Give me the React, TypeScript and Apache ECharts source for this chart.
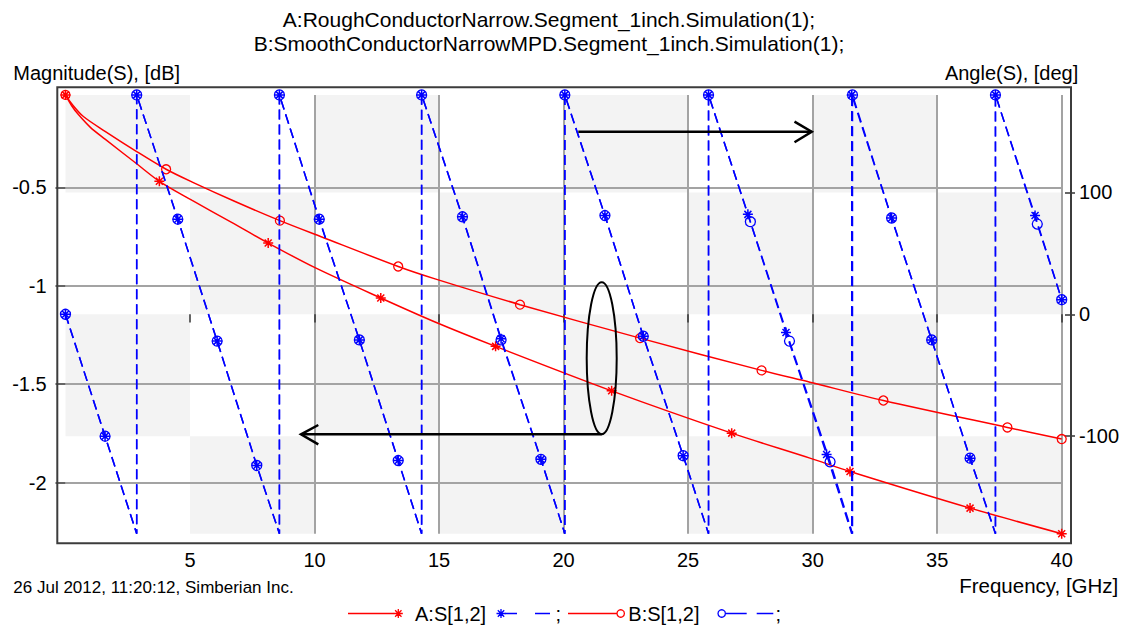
import React, { useEffect, useRef } from 'react';
import * as echarts from 'echarts';

const FONT = '"Liberation Sans", Arial, Helvetica, sans-serif';

// ---------- texts ----------
const titleLine1 = 'A:RoughConductorNarrow.Segment_1inch.Simulation(1);';
const titleLine2 = 'B:SmoothConductorNarrowMPD.Segment_1inch.Simulation(1);';
const leftAxisName = 'Magnitude(S), [dB]';
const rightAxisName = 'Angle(S), [deg]';
const xAxisName = 'Frequency, [GHz]';
const footnote = '26 Jul 2012, 11:20:12, Simberian Inc.';
const legendA = 'A:S[1,2]';
const legendB = 'B:S[1,2]';
const legendSep = ';';

// ---------- axes ----------
const freqRange = [0, 40];
const magRange = [-2.26, -0.03];
const angleRange = [-180, 180];
const freqTicks = [5, 10, 15, 20, 25, 30, 35, 40];
const magTicks = [-2, -1.5, -1, -0.5];
const angleTicks = [-100, 0, 100];
const bandFreqEdges = [0, 5, 10, 15, 20, 25, 30, 35, 40];
const bandAngleEdges = [180, 100, 0, -100, -180];

// ---------- A: magnitude (dB) ----------
const aMagFreq = [0, 0.25, 0.52, 1.0, 1.59, 2.86, 3.77, 5.07, 6.67, 8.14, 10.02, 12.66, 14.84, 17.27, 21.93, 26.75, 29.89, 31.5, 36.32, 40];
const aMagDb = [-0.03, -0.085, -0.13, -0.195, -0.255, -0.38, -0.469, -0.565, -0.678, -0.783, -0.908, -1.062, -1.184, -1.308, -1.534, -1.749, -1.876, -1.944, -2.13, -2.26];
const aMagMark = [1, 0, 0, 0, 0, 0, 1, 0, 0, 1, 0, 1, 0, 1, 1, 1, 0, 1, 1, 1];

// ---------- B: magnitude (dB) ----------
const bMagFreq = [0, 0.25, 0.72, 1.59, 2.86, 4.04, 5.07, 6.81, 8.61, 10.29, 13.36, 14.84, 18.25, 23.07, 27.95, 29.89, 32.84, 37.82, 40];
const bMagDb = [-0.03, -0.075, -0.14, -0.215, -0.318, -0.408, -0.472, -0.572, -0.669, -0.752, -0.902, -0.965, -1.096, -1.266, -1.43, -1.49, -1.583, -1.72, -1.779];
const bMagMark = [1, 0, 0, 0, 0, 1, 0, 0, 1, 0, 1, 0, 1, 1, 1, 0, 1, 1, 1];

// ---------- A: angle (deg) ----------
const aAngFreq = [0, 1.59, 2.86, 2.86, 4.51, 6.09, 7.68, 8.59, 8.59, 10.19, 11.8, 13.36, 14.3, 14.3, 15.94, 17.49, 19.09, 20.05, 20.05, 21.66, 23.2, 24.8, 25.82, 25.82, 27.4, 28.93, 30.56, 31.57, 31.57, 33.17, 34.78, 36.32, 37.34, 37.34, 38.93, 40];
const aAngDeg = [0, -100, -180, 180, 78, -22, -124, -180, 180, 78, -21, -120, -180, 180, 80, -20, -119, -180, 180, 81, -18, -116, -180, 180, 82, -15, -115, -180, 180, 79, -21, -118, -180, 180, 81, 12];
const aAngMark = [1, 1, 0, 1, 1, 1, 1, 0, 1, 1, 1, 1, 0, 1, 1, 1, 1, 0, 1, 1, 1, 1, 0, 1, 1, 1, 1, 0, 1, 1, 1, 1, 0, 1, 1, 1];

// ---------- B: angle (deg) ----------
const bAngFreq = [0, 1.59, 2.86, 2.86, 4.51, 6.09, 7.68, 8.59, 8.59, 10.19, 11.8, 13.36, 14.3, 14.3, 15.94, 17.49, 19.09, 20.05, 20.05, 21.66, 23.2, 24.8, 25.82, 25.82, 27.5, 29.07, 30.7, 31.6, 31.6, 33.17, 34.78, 36.32, 37.34, 37.34, 39.02, 40];
const bAngDeg = [0, -100, -180, 180, 78, -22, -124, -180, 180, 78, -21, -120, -180, 180, 80, -21, -119, -180, 180, 81, -18, -116, -180, 180, 76, -22, -121, -180, 180, 79, -21, -118, -180, 180, 74, 12];
const bAngMark = [1, 1, 0, 1, 1, 1, 1, 0, 1, 1, 1, 1, 0, 1, 1, 1, 1, 0, 1, 1, 1, 1, 0, 1, 1, 1, 1, 0, 1, 1, 1, 1, 0, 1, 1, 1];

// ---------- styles ----------
const RED = '#ff0000';
const BLUE = '#0000ff';
const BAND = '#f3f3f3';
const GRIDLINE = '#a3a3a3';
const FRAME = '#3c3c3c';
const STAR_PATH = 'path://M5,0L5,10M0,5L10,5M1.5,1.5L8.5,8.5M1.5,8.5L8.5,1.5';
const ASTERISK_D = 'M0,-4.5L0,4.5M-4.5,0L4.5,0M-3.2,-3.2L3.2,3.2M-3.2,3.2L3.2,-3.2';

echarts.graphic.registerShape('asterisk', echarts.graphic.extendPath(ASTERISK_D, {}));

function buildPoints(freq: number[], vals: number[], marks: number[]) {
  return freq.map((f, i) => (marks[i] ? { value: [f, vals[i]] } : { value: [f, vals[i]], symbol: 'none' }));
}

function buildBands() {
  const cells: number[][] = [];
  for (let c = 0; c < bandFreqEdges.length - 1; c++) {
    for (let r = 0; r < bandAngleEdges.length - 1; r++) {
      if ((c + r) % 2 === 0) {
        cells.push([bandFreqEdges[c], bandFreqEdges[c + 1], bandAngleEdges[r], bandAngleEdges[r + 1]]);
      }
    }
  }
  return cells;
}

function txt(text: string, x: number, y: number, size: number, align: string, extra: any = {}) {
  return {
    type: 'text',
    x,
    y,
    silent: true,
    style: { text, fill: '#000', fontSize: size, fontFamily: FONT, align, verticalAlign: 'middle', ...extra },
  };
}

function seg(x1: number, y1: number, x2: number, y2: number, stroke: string, lineWidth: number) {
  return { type: 'line', silent: true, shape: { x1, y1, x2, y2 }, style: { stroke, lineWidth } };
}

export default function App() {
  const ref = useRef<HTMLDivElement>(null);

  useEffect(() => {
    if (!ref.current) return;
    const chart = echarts.init(ref.current, undefined, { renderer: 'svg' });

    const labelStyle = { color: '#000', fontSize: 20, fontFamily: FONT };
    const tickStyle = { color: '#333', width: 1.5 };
    const LY = 613.5;

    const option: any = {
      animation: false,
      backgroundColor: '#ffffff',
      textStyle: { fontFamily: FONT },
      grid: {
        left: 65.47,
        right: 61.3,
        top: 94.9,
        bottom: 91.3,
        containLabel: false,
        outerBoundsMode: 'none',
      },
      xAxis: {
        type: 'value',
        min: freqRange[0],
        max: freqRange[1],
        position: 'bottom',
        offset: 5.3,
        axisLine: { show: false },
        axisTick: { show: true, inside: false, length: 8.3, customValues: freqTicks, lineStyle: tickStyle },
        axisLabel: { ...labelStyle, margin: 11, customValues: freqTicks },
        splitLine: { show: true, showMinLine: false, lineStyle: { color: GRIDLINE, width: 2 } },
      },
      yAxis: [
        {
          type: 'value',
          min: magRange[0],
          max: magRange[1],
          position: 'left',
          offset: 2.2,
          axisLine: { show: false },
          axisTick: { show: true, inside: false, length: 10, customValues: magTicks, lineStyle: tickStyle },
          axisLabel: { ...labelStyle, margin: 16.6, customValues: magTicks },
          splitLine: { show: true, lineStyle: { color: GRIDLINE, width: 2 } },
        },
        {
          type: 'value',
          min: angleRange[0],
          max: angleRange[1],
          position: 'right',
          offset: 3.3,
          axisLine: { show: false },
          axisTick: { show: true, inside: false, length: 10, customValues: angleTicks, lineStyle: tickStyle },
          axisLabel: { ...labelStyle, margin: 14, customValues: angleTicks },
          splitLine: { show: false },
        },
      ],
      series: [
        {
          type: 'custom',
          name: 'bands',
          xAxisIndex: 0,
          yAxisIndex: 1,
          z: -1,
          silent: true,
          encode: { x: [0, 1], y: [2, 3] },
          data: buildBands(),
          renderItem: (params: any, api: any) => {
            const p0 = api.coord([api.value(0), api.value(2)]);
            const p1 = api.coord([api.value(1), api.value(3)]);
            return {
              type: 'rect',
              shape: {
                x: Math.min(p0[0], p1[0]),
                y: Math.min(p0[1], p1[1]),
                width: Math.abs(p1[0] - p0[0]),
                height: Math.abs(p1[1] - p0[1]),
              },
              style: { fill: BAND },
            };
          },
        },
        {
          type: 'line',
          name: 'A mag',
          yAxisIndex: 0,
          smooth: 0.3,
          clip: false,
          showSymbol: true,
          showAllSymbol: true,
          symbol: STAR_PATH,
          symbolSize: 10,
          lineStyle: { color: RED, width: 1.5 },
          itemStyle: { color: 'transparent', borderColor: RED, borderWidth: 1.5 },
          data: buildPoints(aMagFreq, aMagDb, aMagMark),
          z: 3,
        },
        {
          type: 'line',
          name: 'B mag',
          yAxisIndex: 0,
          smooth: 0.3,
          clip: false,
          showSymbol: true,
          showAllSymbol: true,
          symbol: 'circle',
          symbolSize: 9,
          lineStyle: { color: RED, width: 1.5 },
          itemStyle: { color: 'transparent', borderColor: RED, borderWidth: 1.3 },
          data: buildPoints(bMagFreq, bMagDb, bMagMark),
          z: 3,
        },
        {
          type: 'line',
          name: 'A ang',
          yAxisIndex: 1,
          smooth: false,
          clip: false,
          showSymbol: true,
          showAllSymbol: true,
          symbol: STAR_PATH,
          symbolSize: 10,
          lineStyle: { color: BLUE, width: 1.5, type: [10, 5] },
          itemStyle: { color: 'transparent', borderColor: BLUE, borderWidth: 1.5 },
          data: buildPoints(aAngFreq, aAngDeg, aAngMark),
          z: 4,
        },
        {
          type: 'line',
          name: 'B ang',
          yAxisIndex: 1,
          smooth: false,
          clip: false,
          showSymbol: true,
          showAllSymbol: true,
          symbol: 'circle',
          symbolSize: 10,
          lineStyle: { color: BLUE, width: 1.5, type: [10, 5] },
          itemStyle: { color: 'transparent', borderColor: BLUE, borderWidth: 1.3 },
          data: buildPoints(bAngFreq, bAngDeg, bAngMark),
          z: 4,
        },
      ],
      graphic: [
        // frame
        {
          type: 'rect',
          silent: true,
          z: 10,
          shape: { x: 57.3, y: 87.3, width: 1013.7, height: 456 },
          style: { fill: 'none', stroke: FRAME, lineWidth: 2 },
        },
        // titles & axis names
        txt(titleLine1, 549, 19.5, 21, 'center'),
        txt(titleLine2, 549, 43.7, 21, 'center'),
        txt(leftAxisName, 13.3, 72.5, 20, 'left'),
        txt(rightAxisName, 1078.3, 72.5, 20, 'right'),
        txt(xAxisName, 1118.3, 585, 20.5, 'right'),
        txt(footnote, 13.3, 587.5, 17, 'left'),
        // annotations: right arrow
        { ...seg(578.3, 131.7, 811.7, 131.7, '#000', 2.5), z: 20 },
        {
          type: 'polyline',
          silent: true,
          z: 20,
          shape: { points: [[794.5, 121.7], [811.7, 131.7], [794.5, 142.3]] },
          style: { stroke: '#000', lineWidth: 2.5, fill: 'none' },
        },
        // ellipse and left arrow
        {
          type: 'ellipse',
          silent: true,
          z: 20,
          shape: { cx: 601.7, cy: 358.3, rx: 15, ry: 76 },
          style: { stroke: '#000', lineWidth: 2, fill: 'none' },
        },
        { ...seg(301, 434.3, 601.7, 434.3, '#000', 2.5), z: 20 },
        {
          type: 'polyline',
          silent: true,
          z: 20,
          shape: { points: [[318.3, 425], [301, 434.3], [318.3, 444.3]] },
          style: { stroke: '#000', lineWidth: 2.5, fill: 'none' },
        },
        // legend
        seg(348, LY, 394, LY, RED, 1.5),
        { type: 'asterisk', x: 398.3, y: LY, silent: true, style: { stroke: RED, lineWidth: 1.3, fill: 'none' } },
        txt(legendA, 415, LY, 20, 'left'),
        { type: 'asterisk', x: 501, y: LY, silent: true, style: { stroke: BLUE, lineWidth: 1.3, fill: 'none' } },
        seg(505, LY, 517, LY, BLUE, 1.5),
        seg(535, LY, 550, LY, BLUE, 1.5),
        txt(legendSep, 555.5, LY, 20, 'left'),
        seg(568, LY, 617, LY, RED, 1.5),
        { type: 'circle', silent: true, shape: { cx: 620.7, cy: LY, r: 3.7 }, style: { stroke: RED, lineWidth: 1.3, fill: 'none' } },
        txt(legendB, 628.3, LY, 20, 'left'),
        { type: 'circle', silent: true, shape: { cx: 721.7, cy: LY, r: 3.7 }, style: { stroke: BLUE, lineWidth: 1.3, fill: 'none' } },
        seg(726, LY, 746.7, LY, BLUE, 1.5),
        seg(756.7, LY, 773.3, LY, BLUE, 1.5),
        txt(legendSep, 775.5, LY, 20, 'left'),
      ],
    };

    chart.setOption(option);
    return () => {
      chart.dispose();
    };
  }, []);

  return (
    <div
      ref={ref}
      style={{ position: 'fixed', left: 0, top: 0, width: 1123, height: 625, background: '#fff' }}
    />
  );
}
